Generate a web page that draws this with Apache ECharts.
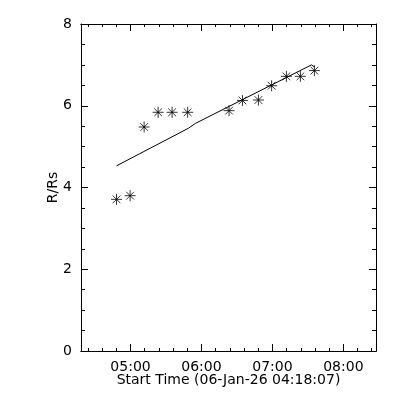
<!DOCTYPE html>
<html>
<head>
<meta charset="utf-8">
<script src="https://cdn.jsdelivr.net/npm/echarts@6/dist/echarts.min.js"></script>
<style>
  html, body { margin: 0; padding: 0; background: #fff; }
  #chart { width: 400px; height: 400px; }
</style>
</head>
<body>
<div id="chart"></div>
<script>
// measured heights (R/Rs) at image times
const obsTimes = ['04:48:10', '04:59:40', '05:11:30', '05:23:20', '05:35:10', '05:48:20',
  '06:23:20', '06:34:40', '06:48:10', '06:59:20', '07:11:50', '07:23:40', '07:35:30']
const obsHeights = [3.71, 3.80, 5.48, 5.84, 5.84, 5.84, 5.88, 6.13, 6.14, 6.49, 6.72, 6.72, 6.86]

// fitted height-time curve
const fitTimes = ['04:48:10', '05:49:00', '05:55:00', '07:33:00', '07:35:30']
const fitHeights = [4.53, 5.45, 5.57, 7.00, 6.95]

const startTime = '04:18:07'
const endTime = '08:27:36'
const majorTicks = ['05:00', '06:00', '07:00', '08:00']
const minorTicks = ['04:24', '04:36', '04:48', '05:12', '05:24', '05:36', '05:48',
  '06:12', '06:24', '06:36', '06:48', '07:12', '07:24', '07:36', '07:48',
  '08:12', '08:24']

// minutes after 04:00
const toMin = (s) => {
  const p = s.split(':').map(Number)
  return (p[0] - 4) * 60 + p[1] + (p[2] || 0) / 60
}
const fmt = (m) => {
  const h = Math.floor(m / 60) + 4
  const mm = Math.round(m % 60)
  return String(h).padStart(2, '0') + ':' + String(mm).padStart(2, '0')
}

const font = 'DejaVu Sans'
const black = '#000'
const xMin = toMin(startTime)
const xMax = toMin(endTime)

const xBase = (pos, ticks, len, showLabel) => ({
  type: 'value',
  position: pos,
  min: xMin,
  max: xMax,
  axisLine: { show: true, onZero: false, lineStyle: { color: black, width: 1 } },
  axisTick: { show: true, inside: true, length: len, customValues: ticks.map(toMin), lineStyle: { color: black } },
  axisLabel: {
    show: showLabel,
    customValues: ticks.map(toMin),
    formatter: (v) => fmt(v),
    color: black,
    fontFamily: font,
    fontSize: 14,
    margin: 9,
  },
  splitLine: { show: false },
})

const yBase = (pos, showLabel) => ({
  type: 'value',
  position: pos,
  min: 0,
  max: 8,
  interval: 2,
  axisLine: { show: true, onZero: false, lineStyle: { color: black, width: 1 } },
  axisTick: { show: true, inside: true, length: 7, lineStyle: { color: black } },
  minorTick: { show: true, splitNumber: 4, length: 4, lineStyle: { color: black } },
  axisLabel: { show: showLabel, color: black, fontFamily: font, fontSize: 14, margin: 9 },
  splitLine: { show: false },
})

const xMajor = xBase('bottom', majorTicks, 7, true)
xMajor.name = 'Start Time (06-Jan-26 ' + startTime + ')'
xMajor.nameLocation = 'middle'
xMajor.nameGap = 22
xMajor.nameMoveOverlap = false
xMajor.nameTextStyle = { color: black, fontFamily: font, fontSize: 14 }

const yLeft = yBase('left', true)
yLeft.name = 'R/Rs'
yLeft.nameLocation = 'middle'
yLeft.nameGap = 21
yLeft.nameMoveOverlap = false
yLeft.nameTextStyle = { color: black, fontFamily: font, fontSize: 14 }

const chart = echarts.init(document.getElementById('chart'), null, { renderer: 'canvas' })
chart.setOption({
  backgroundColor: '#fff',
  animation: false,
  grid: { left: 81, right: 24, top: 24, bottom: 49 },
  xAxis: [
    xMajor,
    xBase('bottom', minorTicks, 3, false),
    xBase('top', majorTicks, 7, false),
    xBase('top', minorTicks, 3, false),
  ],
  yAxis: [yLeft, yBase('right', false)],
  series: [
    {
      type: 'scatter',
      xAxisIndex: 0,
      yAxisIndex: 0,
      symbol: 'path://M0,5L10,5M5,0L5,10M1.5,1.5L8.5,8.5M8.5,1.5L1.5,8.5',
      symbolSize: 11,
      itemStyle: { color: 'none', borderColor: black, borderWidth: 1 },
      data: obsTimes.map((t, i) => [toMin(t), obsHeights[i]]),
    },
    {
      type: 'line',
      xAxisIndex: 0,
      yAxisIndex: 0,
      symbol: 'none',
      lineStyle: { color: black, width: 1 },
      data: fitTimes.map((t, i) => [toMin(t), fitHeights[i]]),
    },
  ],
})
</script>
</body>
</html>
